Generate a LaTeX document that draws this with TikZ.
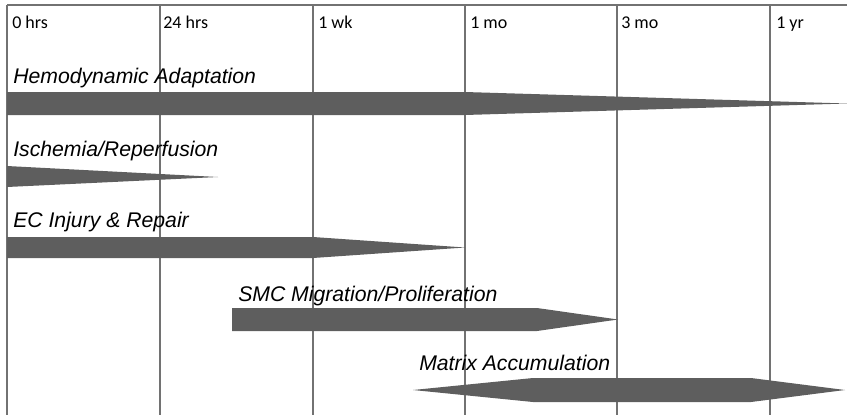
\documentclass[tikz,border=0pt]{standalone}
\usepackage{fontspec}
\setmainfont{Liberation Sans}
\newfontfamily\axisfont{Carlito}
\definecolor{bargray}{HTML}{5E5E5E}
\definecolor{gridgray}{HTML}{727272}
\begin{document}
\begin{tikzpicture}[x=0.75pt,y=-0.75pt,
        gridline/.style={draw=gridgray, line width=1.1pt},
        tick/.style={anchor=base west, inner sep=0pt, font=\axisfont\fontsize{13.5}{15}\selectfont},
        phase/.style={anchor=base west, inner sep=0pt, font=\itshape\fontsize{15.9}{18}\selectfont},
        bar/.style={fill=bargray}]
        \useasboundingbox (0,0) rectangle (847,415);

        % time grid
        \draw[gridline] (7,5) -- (847,5);
        \foreach \x in {7,160,313,465,617,770}
            \draw[gridline] (\x,5) -- (\x,415);

        \node (t0) [tick] at (12,28) {0 hrs};
        \node (t24) [tick] at (163,28) {24 hrs};
        \node (twk) [tick] at (318,28) {1 wk};
        \node (tmo) [tick] at (470,28) {1 mo};
        \node (t3mo) [tick] at (621,28) {3 mo};
        \node (tyr) [tick] at (776,28) {1 yr};

        % phases
        \node (hemo) [phase] at (13,83) {Hemodynamic Adaptation};
        \fill[bar] (7,92) -- (465,92) -- (847,103.5) -- (465,115) -- (7,115) -- cycle;

        \node (isch) [phase] at (13,156) {Ischemia/Reperfusion};
        \fill[bar] (7,166) -- (218,177) -- (7,187) -- cycle;

        \node (ec) [phase] at (13,227) {EC Injury \& Repair};
        \fill[bar] (7,237) -- (313,237) -- (465,247.5) -- (313,258) -- (7,258) -- cycle;

        \node (smc) [phase] at (238,301) {SMC Migration/Proliferation};
        \fill[bar] (232,308) -- (537,308) -- (618,319.5) -- (537,331) -- (232,331) -- cycle;

        \node (matrix) [phase] at (419,370) {Matrix Accumulation};
        \fill[bar] (413,390) -- (533,378) -- (751,378) -- (845,390) -- (751,402) -- (533,402) -- cycle;
    \end{tikzpicture}
\end{document}
